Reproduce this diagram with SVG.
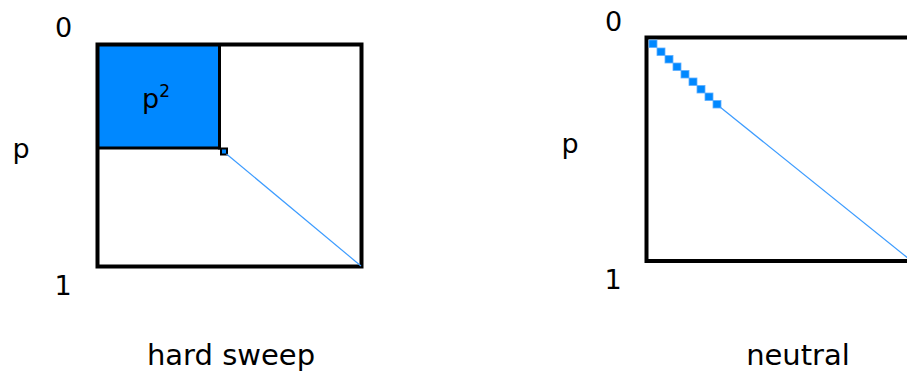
<svg xmlns="http://www.w3.org/2000/svg" width="907" height="373" viewBox="0 0 907 373">
<style>
text{font-family:"DejaVu Sans","Verdana",sans-serif;fill:#000}
.lbl{font-size:27px}
.cap{font-size:29px}
.box{fill:none;stroke:#000;stroke-width:4}
.blue{fill:#0088ff}
.diag{stroke:#3d9cff;stroke-width:1.2;fill:none}
.step{fill:#0088ff;stroke:#5fb0ff;stroke-width:0.8}
</style>
<g id="hard-sweep">
<rect class="blue" x="97.5" y="44.5" width="122" height="103.5"/>
<line x1="219.5" y1="44.5" x2="219.5" y2="149.5" stroke="#000" stroke-width="3"/>
<line x1="97.5" y1="148" x2="221" y2="148" stroke="#000" stroke-width="3"/>
<rect x="221" y="148.5" width="6" height="6" fill="#0088ff" stroke="#000" stroke-width="2"/>
<rect class="box" x="97.5" y="44.5" width="264" height="222"/>
<text class="lbl" x="156" y="108" text-anchor="middle">p<tspan font-size="17" dy="-11">2</tspan></text>
<text class="lbl" x="63.5" y="37" text-anchor="middle">0</text>
<text class="lbl" x="21" y="158" text-anchor="middle">p</text>
<text class="lbl" x="63" y="295" text-anchor="middle">1</text>
<text class="cap" x="231" y="365" text-anchor="middle">hard sweep</text>
</g>
<g id="neutral">
<rect class="box" x="646.5" y="37.5" width="264" height="223.5"/>
<g>
<rect class="step" x="649" y="40" width="8" height="7.5"/>
<rect class="step" x="657" y="48" width="8" height="7.5"/>
<rect class="step" x="665" y="55.5" width="8" height="7.5"/>
<rect class="step" x="673" y="63" width="8" height="7.5"/>
<rect class="step" x="681" y="70.5" width="8" height="7.5"/>
<rect class="step" x="689" y="78" width="8" height="7.5"/>
<rect class="step" x="697" y="85.5" width="8" height="7.5"/>
<rect class="step" x="705" y="93" width="8" height="7.5"/>
<rect class="step" x="713" y="100.5" width="8" height="7.5"/>
</g>
<text class="lbl" x="613.5" y="31" text-anchor="middle">0</text>
<text class="lbl" x="570" y="153" text-anchor="middle">p</text>
<text class="lbl" x="613" y="289" text-anchor="middle">1</text>
<text class="cap" x="798" y="365" text-anchor="middle">neutral</text>
</g>
<g id="connectors">
<line class="diag" x1="226.5" y1="154" x2="361" y2="266"/>
<line class="diag" x1="720" y1="107" x2="909" y2="259"/>
</g>
</svg>
